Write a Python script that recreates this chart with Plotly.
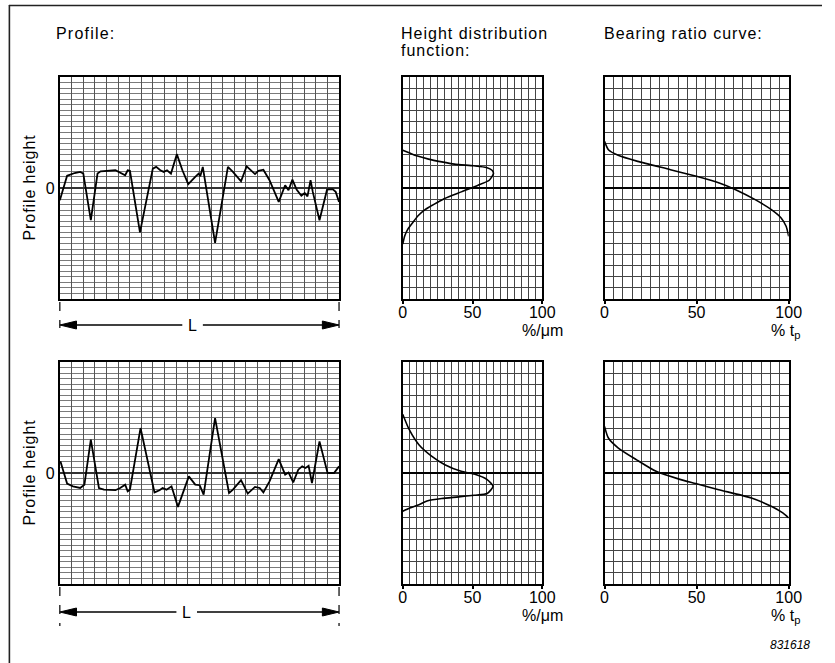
import plotly.graph_objects as go

# ---- data -------------------------------------------------------------
# Profile traces: position along evaluation length L (%) and height (grid rows)
top_profile_x = [0, 0.9, 2.6, 5.3, 7.3, 8.4, 11.1, 13.5, 14.6, 19.9, 21.6, 23.4, 24.3, 25.1,
                 28.7, 33.3, 34.5, 36.0, 37.2, 38.4, 39.8, 41.9, 43.9, 46.0, 48.5, 49.7, 50.3,
                 51.2, 55.6, 60.2, 62.0, 64.9, 66.9, 69.9, 71.1, 72.9, 75.1, 78.4, 80.7, 81.9,
                 83.3, 84.8, 86.5, 87.7, 88.7, 89.8, 90.6, 93.0, 95.7, 97.7, 98.8, 100]
top_profile_h = [-2.2, -0.7, 2.2, 2.7, 2.9, 2.6, -5.8, 2.6, 3.0, 3.2, 2.7, 2.3, 3.2, 3.1,
                 -8.0, 3.5, 3.8, 3.2, 2.9, 3.2, 2.6, 6.1, 3.2, 0.7, 2.0, 2.6, 2.1,
                 3.8, -9.9, 3.8, 2.9, 1.2, 3.9, 2.5, 3.1, 3.3, 1.4, -2.5, 0.5, -0.4,
                 1.5, -0.3, -1.4, -0.9, -1.5, 1.4, -0.7, -5.8, -0.3, -0.2, -0.7, -2.5]

bottom_profile_x = [0.2, 1.2, 2.6, 4.7, 7.3, 8.8, 11.1, 14.0, 15.8, 19.9, 21.6, 23.4, 24.3, 25.1,
                    28.9, 33.9, 35.7, 36.8, 38.2, 40.0, 42.3, 46.2, 48.5, 50.1, 51.5, 55.6,
                    60.6, 62.0, 64.9, 67.3, 69.9, 71.6, 72.9, 75.1, 78.4, 80.7, 81.9, 83.6,
                    85.4, 86.8, 88.0, 89.1, 90.3, 93.0, 95.9, 98.2, 100]
bottom_profile_h = [2.1, 0.3, -1.9, -2.4, -2.7, -2.1, 6.0, -2.7, -3.0, -3.1, -2.7, -2.1, -3.3, -3.0,
                    8.1, -3.5, -3.1, -2.7, -3.0, -2.4, -6.1, -0.6, -2.1, -2.2, -3.9, 9.9,
                    -3.6, -3.0, -1.3, -3.7, -2.5, -2.7, -3.5, -1.5, 2.5, -0.3, 0.1, -1.7,
                    0.6, 1.2, 0.9, 1.3, -1.8, 5.7, 0.0, 0.0, 1.2]

# Height distribution function (% per um) against height
hdf_top_density = [0, 5, 10, 18.5, 28, 37, 51, 60, 64, 65, 62, 54, 42, 30, 22, 16, 11, 7, 3.5, 1.5, 0]
hdf_top_height = [6.8, 6.3, 5.8, 5.2, 4.7, 4.3, 4.0, 3.7, 3.2, 2.6, 1.4, 0.5, -0.7, -1.9, -3.0,
                  -3.9, -5.0, -6.3, -7.5, -8.6, -10.1]
hdf_bottom_density = [0, 4.7, 11.6, 20.9, 30.2, 41.9, 51.2, 60.5, 64.7, 60.5, 51.2, 40, 27.9, 18, 11.6, 5, 0]
hdf_bottom_height = [10.6, 7.8, 5.1, 3.0, 1.5, 0.3, -0.2, -1.2, -2.4, -3.7, -4.0, -4.3, -4.6, -5.0,
                     -5.7, -6.3, -6.9]

# Bearing ratio curve (% tp) against height
brc_top_tp = [0, 2.1, 7.4, 18, 35.8, 49.9, 62.3, 71.2, 81.8, 90.6, 95.9, 98.6, 100]
brc_top_height = [8.4, 6.9, 5.9, 4.8, 3.3, 2.1, 0.9, -0.3, -2.1, -3.9, -5.4, -6.9, -8.7]
brc_bottom_tp = [0, 2.1, 7.5, 17.3, 28, 40.5, 49.5, 62, 79.8, 90.5, 96.8, 100]
brc_bottom_height = [8.4, 6.3, 4.5, 2.4, 0.3, -1.1, -1.9, -3.0, -4.5, -6.0, -7.2, -8.1]

pct_ticks = [0, 50, 100]
pct_tick_text = ["0", "50", "100"]
zero_tick = [0]
zero_tick_text = ["0"]

# ---- page geometry (pixels) -------------------------------------------
W, H = 835, 663
FONT = "Liberation Sans, Arial, Helvetica, sans-serif"


def fx(px):
    return px / W


def fy(py):
    return 1 - py / H


def spaced(s, px=1.0):
    return f'<span style="letter-spacing:{px}px">{s}</span>'


rows_px = [(77, 299), (362, 584)]          # top/bottom pixel edges of each row
col_profile = (57, 342)
col_hdf = (407, 549.5)
col_brc = (613, 801)

fig = go.Figure()
layout = dict(
    width=W, height=H, margin=dict(l=0, r=0, t=0, b=0),
    paper_bgcolor="white", plot_bgcolor="white", showlegend=False,
    font=dict(family=FONT, size=16, color="black"),
)

frame = dict(showline=True, mirror=True, linecolor="black", linewidth=2)

series = [
    (top_profile_x, top_profile_h, "linear"),
    (hdf_top_density, hdf_top_height, "spline"),
    (brc_top_tp, brc_top_height, "spline"),
    (bottom_profile_x, bottom_profile_h, "linear"),
    (hdf_bottom_density, hdf_bottom_height, "spline"),
    (brc_bottom_tp, brc_bottom_height, "spline"),
]

n = 0
for r, (ytop, ybot) in enumerate(rows_px):
    ydom = [fy(ybot), fy(ytop)]
    for c, col in enumerate([col_profile, col_hdf, col_brc]):
        n += 1
        xs, ys, shape = series[n - 1]
        xa = "x" if n == 1 else f"x{n}"
        ya = "y" if n == 1 else f"y{n}"
        fig.add_trace(go.Scatter(
            x=xs, y=ys, mode="lines", xaxis=xa, yaxis=ya,
            line=dict(color="black", width=1.8 if c == 0 else 1.6, shape=shape,
                      smoothing=0.6),
            hoverinfo="skip",
        ))
        xkey = "xaxis" if n == 1 else f"xaxis{n}"
        ykey = "yaxis" if n == 1 else f"yaxis{n}"
        if c == 0:
            layout[xkey] = dict(domain=[fx(col[0]), fx(col[1])], anchor=ya, range=[0, 100],
                                showticklabels=False, ticks="", showgrid=True,
                                tickmode="linear", tick0=0, dtick=100 / 24,
                                gridcolor="#555", gridwidth=1, zeroline=False, **frame)
            layout[ykey] = dict(domain=ydom, anchor=xa, range=[-20, 20],
                                tickmode="array", tickvals=zero_tick, ticktext=zero_tick_text,
                                ticks="", showgrid=False,
                                minor=dict(tickmode="linear", tick0=0, dtick=1, showgrid=True,
                                           gridcolor="#7a7a7a", gridwidth=1, ticks=""),
                                zeroline=True, zerolinecolor="#333", zerolinewidth=1.6,
                                tickfont=dict(size=16), **frame)
        else:
            layout[xkey] = dict(domain=[fx(col[0]), fx(col[1])], anchor=ya, range=[0, 100],
                                tickmode="array", tickvals=pct_ticks, ticktext=pct_tick_text,
                                ticks="outside", ticklen=3, tickwidth=1.5, tickcolor="black",
                                ticklabelstandoff=-5,
                                showgrid=True, gridcolor="#444", gridwidth=1,
                                minor=dict(tickmode="linear", tick0=0, dtick=5, showgrid=True,
                                           gridcolor="#444", gridwidth=1, ticks=""),
                                zeroline=False, tickfont=dict(size=16), **frame)
            layout[ykey] = dict(domain=ydom, anchor=xa, range=[-20, 20],
                                showticklabels=False, ticks="", tickmode="linear", tick0=0,
                                dtick=2, showgrid=True, gridcolor="#444", gridwidth=1,
                                zeroline=True, zerolinecolor="black", zerolinewidth=1.6,
                                **frame)

annotations = []
shapes = []


def text(px, py, s, size=16, xanchor="left", yanchor="middle", angle=0, italic=False):
    annotations.append(dict(
        x=fx(px), y=fy(py), xref="paper", yref="paper", text=s, showarrow=False,
        xanchor=xanchor, yanchor=yanchor, textangle=angle, borderpad=0,
        font=dict(family=FONT, size=size, color="black",
                  style="italic" if italic else "normal"),
    ))


# column headings
text(52, 33, spaced("Profile:", 1.2))
text(404, 33, spaced("Height distribution", 1.0))
text(404, 51, spaced("function:", 1.0))
text(611, 33, spaced("Bearing ratio curve:", 1.0))

for r, (ytop, ybot) in enumerate(rows_px):
    mid = (ytop + ybot) / 2
    text(26, mid - 1, spaced("Profile height", 0.9), size=16, xanchor="center", angle=-90)
    text(550, ybot + 31, "%/\u03bcm", size=16, xanchor="center")
    text(798, ybot + 32, "% t<sub>p</sub>", size=16, xanchor="center")

    # evaluation length L with dashed end markers and arrows
    ly = ybot + 26 if r == 0 else ybot + 28
    dash_top, dash_bot = ybot + 3, ybot + (29 if r == 0 else 42)
    for xp in col_profile:
        shapes.append(dict(type="line", xref="paper", yref="paper",
                           x0=fx(xp), x1=fx(xp), y0=fy(dash_top), y1=fy(dash_bot),
                           line=dict(color="black", width=1.2, dash="dash")))
    lx = 192 if r == 0 else 186
    shapes.append(dict(type="line", xref="paper", yref="paper",
                       x0=fx(col_profile[0] + 10), x1=fx(lx - 10), y0=fy(ly), y1=fy(ly),
                       line=dict(color="black", width=1.3)))
    shapes.append(dict(type="line", xref="paper", yref="paper",
                       x0=fx(lx + 11), x1=fx(col_profile[1] - 10), y0=fy(ly), y1=fy(ly),
                       line=dict(color="black", width=1.3)))
    a, b = col_profile
    shapes.append(dict(type="path", xref="paper", yref="paper",
                       path=f"M {fx(a)},{fy(ly)} L {fx(a + 17)},{fy(ly - 4)} L {fx(a + 17)},{fy(ly + 4)} Z",
                       fillcolor="black", line=dict(color="black", width=1)))
    shapes.append(dict(type="path", xref="paper", yref="paper",
                       path=f"M {fx(b)},{fy(ly)} L {fx(b - 17)},{fy(ly - 4)} L {fx(b - 17)},{fy(ly + 4)} Z",
                       fillcolor="black", line=dict(color="black", width=1)))
    text(lx, ly, "L", size=16, xanchor="center")

# figure number
text(824, 645, "831618", size=12, xanchor="right", italic=True)

# outer frame (top and left rules)
shapes.append(dict(type="line", xref="paper", yref="paper", x0=fx(5), x1=1, y0=fy(5.5), y1=fy(5.5),
                   line=dict(color="#222", width=1.6)))
shapes.append(dict(type="line", xref="paper", yref="paper", x0=fx(5.5), x1=fx(5.5), y0=fy(5), y1=0,
                   line=dict(color="#222", width=1.6)))

layout["annotations"] = annotations
layout["shapes"] = shapes
fig.update_layout(**layout)
fig.write_html("out.html")
